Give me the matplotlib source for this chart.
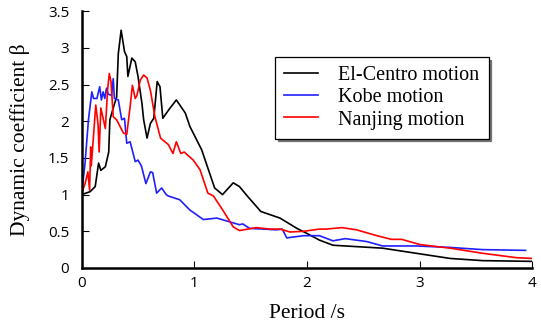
import numpy as np
import matplotlib
matplotlib.use("Agg")
import matplotlib.pyplot as plt

# El-Centro
t_el = [0, 0.075, 0.12, 0.15, 0.17, 0.21, 0.24, 0.25, 0.28, 0.31, 0.325, 0.35, 0.38, 0.40, 0.41,
        0.445, 0.475, 0.50, 0.535, 0.55, 0.58, 0.61, 0.64, 0.67, 0.695, 0.72, 0.77, 0.84, 0.92,
        0.96, 1.065, 1.18, 1.25, 1.345, 1.40, 1.47, 1.59, 1.76, 1.91, 2.0, 2.11, 2.23, 2.67, 2.97,
        3.27, 3.56, 4.0]
b_el = [1.0, 1.04, 1.11, 1.43, 1.33, 1.38, 1.58, 2.02, 2.18, 2.33, 2.92, 3.24, 2.95, 2.88, 2.61,
        2.86, 2.81, 2.61, 2.24, 2.02, 1.77, 1.97, 2.04, 2.54, 2.47, 2.04, 2.15, 2.29, 2.11,
        1.93, 1.61, 1.09, 1.0, 1.16, 1.11, 0.98, 0.77, 0.68, 0.54, 0.47, 0.38, 0.31, 0.27, 0.20,
        0.13, 0.10, 0.09]

# Kobe
t_kb = [0, 0.03, 0.06, 0.09, 0.105, 0.135, 0.16, 0.175, 0.19, 0.205, 0.22, 0.235, 0.265, 0.28,
        0.29, 0.325, 0.355, 0.38, 0.40, 0.43, 0.475, 0.50, 0.53, 0.57, 0.61, 0.63, 0.665, 0.71,
        0.75, 0.77, 0.87, 0.96, 1.08, 1.20, 1.31, 1.40, 1.43, 1.49, 1.61, 1.73, 1.78, 1.82, 1.97,
        2.11, 2.23, 2.34, 2.53, 2.67, 2.97, 3.27, 3.56, 3.94]
b_kb = [1.02, 1.43, 2.02, 2.40, 2.31, 2.31, 2.47, 2.29, 2.40, 2.31, 2.45, 2.37, 2.35, 2.58,
        2.31, 2.29, 2.02, 2.04, 1.70, 1.72, 1.45, 1.47, 1.39, 1.15, 1.31, 1.30, 1.02, 1.09,
        1.0, 0.98, 0.93, 0.79, 0.66, 0.68, 0.63, 0.59, 0.60, 0.54, 0.53, 0.52, 0.53, 0.41, 0.44,
        0.44, 0.37, 0.40, 0.36, 0.30, 0.30, 0.28, 0.25, 0.24]

# Nanjing
t_nj = [0, 0.03, 0.055, 0.07, 0.08, 0.085, 0.10, 0.125, 0.145, 0.155, 0.17, 0.19, 0.21, 0.23,
        0.245, 0.26, 0.28, 0.31, 0.34, 0.37, 0.40, 0.43, 0.45, 0.475, 0.49, 0.52, 0.55, 0.58,
        0.61, 0.65, 0.70, 0.77, 0.81, 0.84, 0.88, 0.91, 0.99, 1.05, 1.12, 1.17, 1.26, 1.345,
        1.40, 1.55, 1.67, 1.76, 1.85, 1.97, 2.11, 2.17, 2.31, 2.44, 2.62, 2.75, 2.84, 3.0, 3.27,
        3.56, 3.86, 4.0]
b_nj = [1.02, 1.15, 1.31, 1.06, 1.65, 1.39, 1.70, 2.22, 1.96, 1.58, 2.18, 2.04, 1.90, 2.43,
        2.65, 2.54, 2.06, 2.02, 1.93, 1.84, 1.82, 2.20, 2.49, 2.31, 2.35, 2.56, 2.63, 2.59,
        2.42, 2.06, 1.77, 1.68, 1.56, 1.72, 1.56, 1.58, 1.47, 1.34, 1.02, 0.98, 0.77, 0.56,
        0.51, 0.55, 0.53, 0.53, 0.49, 0.50, 0.53, 0.53, 0.55, 0.52, 0.44, 0.39, 0.39, 0.32, 0.27,
        0.20, 0.14, 0.13]

fig = plt.figure(figsize=(5.41, 3.28), dpi=100)
ax = fig.add_axes([0.151, 0.183, 0.833, 0.783])

ax.plot(t_el, b_el, color="black", linewidth=1.2, label="El-Centro motion")
ax.plot(t_kb, b_kb, color="#2020ff", linewidth=1.2, label="Kobe motion")
ax.plot(t_nj, b_nj, color="red", linewidth=1.2, label="Nanjing motion")

ax.set_xlim(0, 4)
ax.set_ylim(0, 3.5)
ax.set_xticks([0, 1, 2, 3, 4])
ax.set_yticks(np.arange(0, 3.51, 0.5))
ax.set_yticklabels(["0", "0.5", "1", "1.5", "2", "2.5", "3", "3.5"])
ax.spines["top"].set_visible(False)
ax.spines["right"].set_visible(False)
ax.spines["left"].set_linewidth(1.8)
ax.spines["bottom"].set_linewidth(1.8)
ax.tick_params(direction="in", length=5, width=0.8, labelsize=11)
ax.tick_params(axis="y", pad=9)
ax.tick_params(axis="x", pad=6)
for lab in ax.get_xticklabels() + ax.get_yticklabels():
    lab.set_family("Open Sans")

ax.set_xlabel("Period /s", family="Liberation Serif", fontsize=15.5, labelpad=9)
ax.set_ylabel("Dynamic coefficient β", family="Liberation Serif", fontsize=15.5)
ax.yaxis.set_label_coords(-0.115, 0.5)

leg = ax.legend(loc="upper left", bbox_to_anchor=(0.429, 0.821), borderaxespad=0, frameon=True,
                fancybox=False, shadow={"color": "0.45", "alpha": 1},
                prop={"family": "Liberation Serif", "size": 14.5},
                handlelength=1.7, labelspacing=0.15, borderpad=0.45, handletextpad=1.0)
leg.get_frame().set_edgecolor("black")
leg.get_frame().set_linewidth(0.9)

fig.savefig("out.png", dpi=100)
